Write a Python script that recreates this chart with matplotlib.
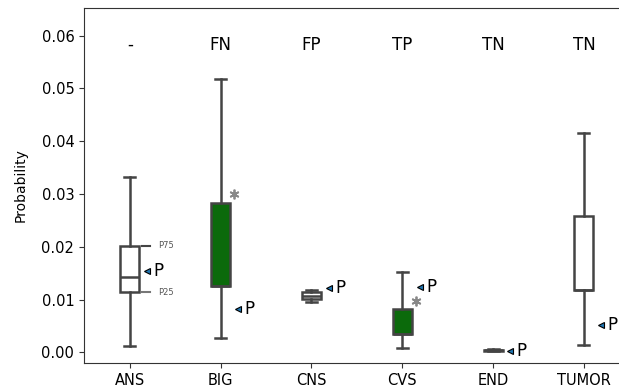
import matplotlib.pyplot as plt
import numpy as np

# ========== 数据 ==========
categories = ['ANS', 'BIG', 'CNS', 'CVS', 'END', 'TUMOR']
labels_top = ['-', 'FN', 'FP', 'TP', 'TN', 'TN']
whislo = [0.0012, 0.0027, 0.0096, 0.0008, 0.0002, 0.0014]
q1 = [0.0114, 0.0126, 0.0102, 0.0035, 0.0003, 0.0119]
med = [0.0143, 0.0126, 0.0107, 0.0035, 0.0004, 0.0119]
q3 = [0.0202, 0.0283, 0.0114, 0.0083, 0.0005, 0.0259]
whishi = [0.0333, 0.0518, 0.0118, 0.0153, 0.0006, 0.0416]
p_values = [0.0154, 0.0083, 0.0122, 0.0123, 0.0003, 0.0052]
star_idx = [1, 3]
star_values = [0.0300, 0.0098]
box_colors = ['white', '#0b6a0b', 'white', '#0b6a0b', 'white', 'white']

line_col = '#444444'

fig = plt.figure(figsize=(6.19, 3.9), dpi=100)
ax = fig.add_axes([0.1357, 0.0692, 0.881, 0.9115])

x = np.arange(len(categories))
stats = []
for i in range(len(categories)):
    stats.append(dict(whislo=whislo[i], q1=q1[i], med=med[i], q3=q3[i],
                      whishi=whishi[i], fliers=[], label=categories[i]))

bp = ax.bxp(stats, positions=x, widths=0.21, patch_artist=True,
            showfliers=False,
            boxprops=dict(edgecolor=line_col, linewidth=1.8),
            whiskerprops=dict(color=line_col, linewidth=1.8),
            capprops=dict(color=line_col, linewidth=1.8),
            medianprops=dict(color=line_col, linewidth=1.8),
            capwidths=0.12)
for patch, c in zip(bp['boxes'], box_colors):
    patch.set_facecolor(c)

# P 标记
ax.plot(x + 0.19, p_values, linestyle='none', marker='<', markersize=5,
        markerfacecolor='#1f77b4', markeredgecolor='black', markeredgewidth=0.8)
for xi, p in zip(x, p_values):
    ax.text(xi + 0.26, p, 'P', fontsize=12, va='center', ha='left', color='black')

# 星号
ax.plot(x[star_idx] + 0.15, star_values, linestyle='none', marker=(6, 2, 0),
        markersize=7, markeredgewidth=1.3, color='#888888')

# 顶部标签
for xi, lab in zip(x, labels_top):
    ax.text(xi, 0.0583, lab, fontsize=12, ha='center', va='center')

# P75 / P25 注释
ax.plot([0.13, 0.22], [q3[0], q3[0]], color=line_col, linewidth=1.5)
ax.plot([0.13, 0.22], [q1[0], q1[0]], color='#777777', linewidth=1.5)
ax.text(0.31, q3[0], 'P75', fontsize=6, color='#555555', va='center')
ax.text(0.31, q1[0], 'P25', fontsize=6, color='#555555', va='center')

ax.set_xlim(-0.505, 5.5)
ax.set_ylim(-0.002, 0.0653)
ax.set_yticks([0.0, 0.01, 0.02, 0.03, 0.04, 0.05, 0.06])
ax.set_yticklabels(['0.00', '0.01', '0.02', '0.03', '0.04', '0.05', '0.06'])
ax.set_xticks(x)
ax.set_xticklabels(categories)
ax.tick_params(labelsize=10.5, color='#333333')
ax.set_ylabel('Probability', fontsize=10, labelpad=10)
for s in ax.spines.values():
    s.set_color('#333333')

plt.savefig('out.png', dpi=100)
